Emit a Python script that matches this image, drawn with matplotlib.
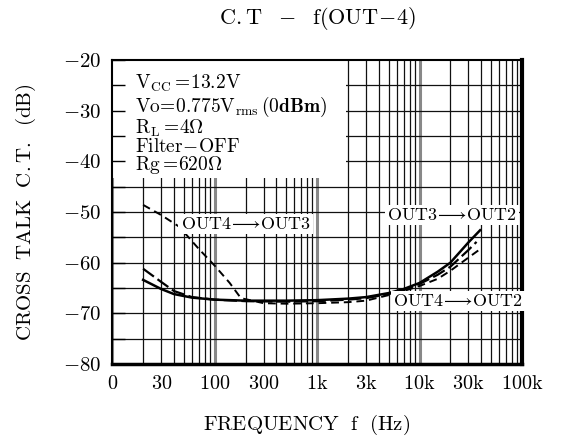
import matplotlib
matplotlib.use('Agg')
import matplotlib.pyplot as plt
from matplotlib.patches import Rectangle
import numpy as np

plt.rcParams['mathtext.fontset'] = 'cm'
plt.rcParams['font.family'] = ['cmr10', 'DejaVu Sans']

# OUT4 -> OUT3 (short dash)
f_43 = [20, 30, 45, 70, 100, 140, 180, 300, 500, 1000, 2000, 3000, 5000, 7000, 10000, 15000, 20000, 30000, 38000]
ct_43 = [-48.6, -50.6, -52.9, -57.3, -60.6, -64.0, -67.0, -68.0, -68.1, -68.0, -67.8, -67.5, -66.4, -65.6, -64.6, -63.2, -61.6, -59.0, -57.5]
# long dash
f_ld = [20, 30, 40, 60, 100, 200, 500, 1000, 2000, 3000, 5000, 7000, 10000, 15000, 20000, 30000, 36000]
ct_ld = [-61.2, -63.8, -65.6, -66.8, -67.3, -67.6, -67.7, -67.6, -67.3, -67.0, -66.2, -65.4, -64.2, -62.4, -60.8, -57.5, -55.9]
# solid
f_s = [20, 30, 40, 60, 100, 200, 500, 1000, 2000, 3000, 5000, 7000, 10000, 15000, 20000, 30000, 39000]
ct_s = [-63.4, -65.2, -66.2, -66.9, -67.3, -67.5, -67.5, -67.4, -67.1, -66.8, -66.0, -65.2, -64.0, -61.8, -60.0, -56.0, -53.6]

xticks = [10, 30, 100, 300, 1000, 3000, 10000, 30000, 100000]
xlabels = ['0', '30', '100', '300', '1k', '3k', '10k', '30k', '100k']
yticks = [-20, -30, -40, -50, -60, -70, -80]

cond = [r'$\mathrm{V_{CC}}=\!\mathrm{13.2V}$',
        r'$\mathrm{Vo}\!=\!\mathrm{0.775V_{rms}\,(0}\mathbf{dBm}\mathrm{)}$',
        r'$\mathrm{R_L}=\!\mathrm{4\Omega}$',
        r'$\mathrm{Filter}\!-\!\mathrm{OFF}$',
        r'$\mathrm{Rg}=\!\mathrm{620\Omega}$']
cond_y = [-24.6, -29.3, -33.4, -37.2, -40.8]

fig = plt.figure(figsize=(5.68, 4.41), dpi=100)
ax = fig.add_axes([0.1977, 0.1746, 0.7213, 0.6894])
ax.set_xscale('log')
ax.set_xlim(10, 100000)
ax.set_ylim(-80, -20)

# grid
for d in range(1, 5):
    for k in range(1, 10):
        v = k * 10 ** d
        if v >= 100000:
            continue
        if k == 1:
            ax.axvline(v, color='#888888', lw=2.2, zorder=1)
        else:
            ax.axvline(v, color='#111111', lw=0.9, zorder=1)
for v in np.arange(-75, -20, 5):
    ax.axhline(v, color='#111111', lw=0.9, zorder=1)

ax.add_patch(Rectangle((10, -43.2), 1900 - 10, 23.2, facecolor='white',
                       edgecolor='none', zorder=1.8))

ax.plot(f_s, ct_s, color='black', lw=1.8, zorder=3)
ax.plot(f_ld, ct_ld, color='black', lw=1.6, ls=(0, (6, 2)), zorder=3)
ax.plot(f_43, ct_43, color='black', lw=1.4, ls=(0, (4, 2.5)), zorder=3)

for t, y in zip(cond, cond_y):
    ax.text(16.7, y, t, fontsize=14, va='center', ha='left', zorder=4)

box = dict(facecolor='white', edgecolor='none', pad=1.5)
arrow_lbl = r'$\mathrm{%s}\!\longrightarrow\!\mathrm{%s}$'
ax.text(200, -52.4, arrow_lbl % ('OUT4', 'OUT3'), fontsize=13, ha='center', va='center', bbox=box, zorder=5)
ax.text(20600, -50.6, arrow_lbl % ('OUT3', 'OUT2'), fontsize=13, ha='center', va='center', bbox=box, zorder=5)
ax.text(23600, -67.6, arrow_lbl % ('OUT4', 'OUT2'), fontsize=13, ha='center', va='center', bbox=box, zorder=5)

ax.set_xticks(xticks)
ax.set_xticklabels(['$\\mathrm{%s}$' % s for s in xlabels], fontsize=14.5)
ax.xaxis.set_minor_locator(matplotlib.ticker.NullLocator())
ax.tick_params(axis='x', length=0, pad=8)
ax.set_yticks(yticks)
ax.set_yticklabels(['$\\mathbf{%d}$' % v for v in yticks], fontsize=15)
ax.set_yticks(np.arange(-75, -20, 10), minor=True)
ax.tick_params(axis='y', which='both', direction='in', length=9, width=1, pad=8)
ax.set_axisbelow(False)

for s in ['left', 'top']:
    ax.spines[s].set_linewidth(1.5)
ax.spines['right'].set_linewidth(3)
ax.spines['bottom'].set_linewidth(2.5)

ax.set_title(r'$\mathrm{C.T\ \ -\ \ f(OUT\!-\!4)}$', fontsize=16, pad=26)
ax.set_xlabel(r'$\mathrm{FREQUENCY\ \ f\ \ (Hz)}$', fontsize=15, labelpad=16)
ax.xaxis.set_label_coords(0.475, -0.16)
ax.set_ylabel(r'$\mathrm{CROSS\ \ TALK\ \ C.T.\ \ (dB)}$', fontsize=15, labelpad=18)

fig.savefig('out.png', dpi=100)
